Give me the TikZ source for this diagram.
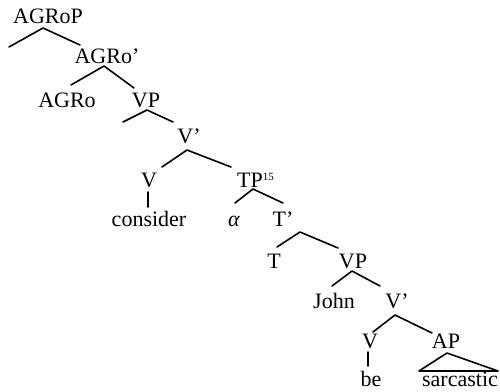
\documentclass[tikz,border=0pt]{standalone}
\usepackage{fontspec}
\setmainfont{Liberation Serif}
\begin{document}
\begin{tikzpicture}[x=1pt,y=-1pt,
  lbl/.style={anchor=base,inner sep=0pt,font=\fontsize{22}{24}\selectfont},
  branch/.style={line width=1.6pt,line cap=round,line join=round}]
\useasboundingbox (0,0) rectangle (500,391);
% nodes
\node[lbl] (AGRoP) at (48,23) {AGRoP};
\node[lbl] (AGRob) at (107,63) {AGRo'};
\node[lbl] (AGRo) at (67,107) {AGRo};
\node[lbl] (VPa) at (146,107) {VP};
\node[lbl] (Vba) at (189,143) {V'};
\node[lbl] (Va) at (149,187) {V};
\node[lbl,anchor=base west] (TP) at (237,187) {TP\raisebox{7pt}{\fontsize{11}{12}\selectfont 15}};
\node[lbl] (consider) at (149,226) {consider};
\node[lbl] (alpha) at (234,226) {\itshape α};
\node[lbl] (Tb) at (283,226) {T'};
\node[lbl] (T) at (274,268) {T};
\node[lbl] (VPb) at (353,268) {VP};
\node[lbl] (John) at (334,308) {John};
\node[lbl] (Vbb) at (397,308) {V'};
\node[lbl] (Vb) at (370,348) {V};
\node[lbl] (AP) at (446,348) {AP};
\node[lbl] (be) at (371,386) {be};
\node[lbl] (sarcastic) at (460,386) {sarcastic};
\coordinate (e1) at (9,47);
\coordinate (e2) at (123,122);
% branches
\draw[branch] (e1) -- ([shift={(-5,5)}]AGRoP.base) -- ([shift={(-27,-18)}]AGRob.base);
\draw[branch] ([shift={(4,-22)}]AGRo.base) -- ([shift={(-3,3)}]AGRob.base) -- ([shift={(-12,-19)}]VPa.base);
\draw[branch] (e2) -- ([shift={(1,3)}]VPa.base) -- ([shift={(-16,-21)}]Vba.base);
\draw[branch] ([shift={(13,-20)}]Va.base) -- ([shift={(-2,7)}]Vba.base) -- ([shift={(-6,-20)}]TP.base west);
\draw[branch] ([shift={(-1,5)}]Va.base) -- ([shift={(-1,-19)}]consider.base);
\draw[branch] ([shift={(1,-23)}]alpha.base) -- ([shift={(16,2)}]TP.base west) -- ([shift={(0,-23)}]Tb.base);
\draw[branch] ([shift={(3,-21)}]T.base) -- ([shift={(17,6)}]Tb.base) -- ([shift={(-15,-20)}]VPb.base);
\draw[branch] ([shift={(-2,-22)}]John.base) -- ([shift={(-1,3)}]VPb.base) -- ([shift={(-17,-22)}]Vbb.base);
\draw[branch] ([shift={(3,-16)}]Vb.base) -- ([shift={(-2,7)}]Vbb.base) -- ([shift={(-14,-15)}]AP.base);
\draw[branch] ([shift={(-2,4)}]Vb.base) -- ([shift={(-3,-20)}]be.base);
\draw[branch] ([shift={(1,5)}]AP.base) -- ([shift={(-41,-15)}]sarcastic.base) -- ([shift={(38,-15)}]sarcastic.base) -- cycle;
\end{tikzpicture}
\end{document}
